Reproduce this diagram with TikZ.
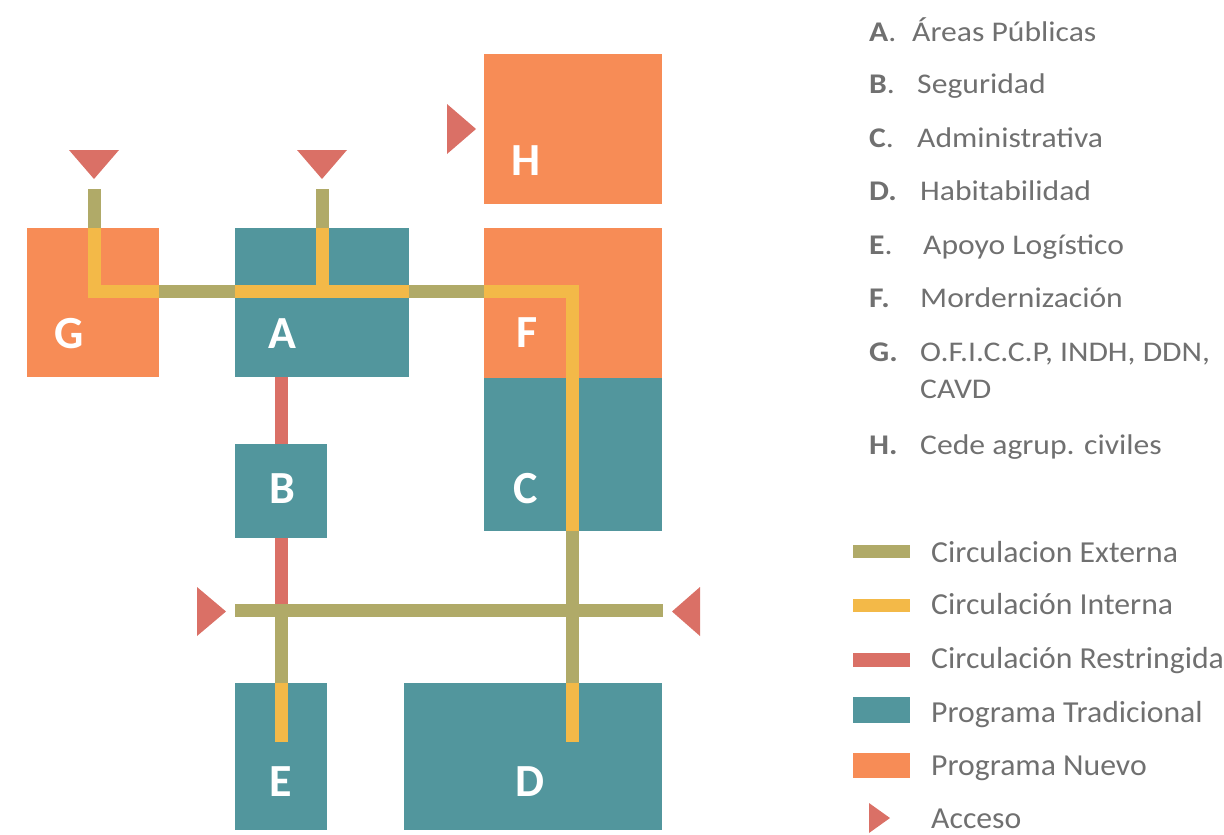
\documentclass[tikz,border=0pt]{standalone}
\usepackage{fontspec}
\setmainfont{Carlito}
\definecolor{teal}{RGB}{82,150,157}
\definecolor{orng}{RGB}{247,140,86}
\definecolor{olive}{RGB}{176,170,104}
\definecolor{yel}{RGB}{243,185,72}
\definecolor{rd}{RGB}{218,112,102}
\definecolor{txt}{RGB}{112,112,112}
\tikzset{
  box/.style={anchor=north west, inner sep=0pt, outer sep=0pt, draw=none},
  trad/.style={box, fill=teal},
  nuevo/.style={box, fill=orng},
  letter/.style={anchor=base, text=white, font=\fontsize{46}{46}\selectfont\bfseries, inner sep=0pt},
  ext/.style={draw=olive, line width=13pt, line cap=butt, line join=miter},
  int/.style={draw=yel, line width=13pt, line cap=butt, line join=miter},
  res/.style={draw=rd, line width=13pt, line cap=butt},
  acc/.style={fill=rd, draw=none},
  legtxt/.style={anchor=base west, text=txt, font=\fontsize{28.5}{28.5}\selectfont, inner sep=0pt, xscale=1.11},
  keytxt/.style={anchor=base west, text=txt, font=\fontsize{30.5}{30.5}\selectfont, inner sep=0pt, xscale=1.04},
}
\begin{document}
\begin{tikzpicture}[x=1pt,y=-1pt]
\useasboundingbox (0,0) rectangle (1224,835);
% boxes
\node[nuevo, minimum width=132pt, minimum height=149pt] (G) at (27,228) {};
\node[trad, minimum width=174pt, minimum height=149pt] (A) at (235,228) {};
\node[nuevo, minimum width=178pt, minimum height=150pt] (H) at (484,54) {};
\node[nuevo, minimum width=178pt, minimum height=150pt] (F) at (484,228) {};
\node[trad, minimum width=178pt, minimum height=153pt] (C) at (484,378) {};
\node[trad, minimum width=92pt, minimum height=94pt] (B) at (235,444) {};
\node[trad, minimum width=92pt, minimum height=147pt] (E) at (235,683) {};
\node[trad, minimum width=258pt, minimum height=147pt] (D) at (404,683) {};
% letters
\node[letter] (lG) at (69,348) {G};
\node[letter] (lA) at (282,348) {A};
\node[letter] (lF) at (527,347) {F};
\node[letter] (lH) at (526,175) {H};
\node[letter] (lB) at (282,503) {B};
\node[letter] (lC) at (526,503) {C};
\node[letter] (lE) at (281,796) {E};
\node[letter] (lD) at (530,796) {D};
% route coordinates
\coordinate (gTop) at (94.5,189);
\coordinate (gIn) at (94.5,228);
\coordinate (gCorner) at (94.5,291);
\coordinate (gOut) at (159,291);
\coordinate (aWest) at (235,291);
\coordinate (aEast) at (409,291);
\coordinate (aTop) at (322,189);
\coordinate (aIn) at (322,228);
\coordinate (aJoin) at (322,291);
\coordinate (fWest) at (484,291);
\coordinate (fCorner) at (572.5,291);
\coordinate (cBot) at (572.5,531);
\coordinate (dTop) at (572.5,683);
\coordinate (dEnd) at (572.5,742);
\coordinate (aBot) at (281.5,377);
\coordinate (bTop) at (281.5,444);
\coordinate (bBot) at (281.5,538);
\coordinate (cross) at (281.5,604);
\coordinate (eTop) at (281.5,683);
\coordinate (eEnd) at (281.5,742);
\coordinate (hW) at (235,610.5);
\coordinate (hE) at (663,610.5);
% external circulation
\draw[ext] (gTop) -- (gIn);
\draw[ext] (aTop) -- (aIn);
\draw[ext] (gOut) -- (aWest);
\draw[ext] (aEast) -- (fWest);
\draw[ext] (hW) -- (hE);
\draw[ext] (cross) -- (eTop);
\draw[ext] (cBot) -- (dTop);
% internal circulation
\draw[int] (gIn) -- (gCorner) -- (gOut);
\draw[int] (aWest) -- (aEast);
\draw[int] (aIn) -- (aJoin);
\draw[int] (fWest) -- (fCorner) -- (cBot);
\draw[int] (dTop) -- (dEnd);
\draw[int] (eTop) -- (eEnd);
% restricted
\draw[res] (aBot) -- (bTop);
\draw[res] (bBot) -- (cross);
% access
\fill[acc] (69,150) -- (119,150) -- (94,179) -- cycle;
\fill[acc] (297,150) -- (347,150) -- (322,179) -- cycle;
\fill[acc] (447,104) -- (447,154) -- (476,129) -- cycle;
\fill[acc] (197,587) -- (197,636) -- (226,611.5) -- cycle;
\fill[acc] (700,587) -- (700,636) -- (672,611.5) -- cycle;
% legend letters
\node[legtxt] (kA) at (869,41) {\textbf{A}.};
\node[legtxt] (tA) at (912,41) {Áreas Públicas};
\node[legtxt] (kB) at (869,93) {\textbf{B}.};
\node[legtxt] (tB) at (917,93) {Seguridad};
\node[legtxt] (kC) at (869,147) {\textbf{C}.};
\node[legtxt] (tC) at (917,147) {Administrativa};
\node[legtxt] (kD) at (869,200) {\textbf{D.}};
\node[legtxt] (tD) at (920,200) {Habitabilidad};
\node[legtxt] (kE) at (869,254) {\textbf{E}.};
\node[legtxt] (tE) at (923,254) {Apoyo Logístico};
\node[legtxt] (kF) at (869,307) {\textbf{F.}};
\node[legtxt] (tF) at (920,307) {Mordernización};
\node[legtxt] (kG) at (869,361) {\textbf{G.}};
\node[legtxt] (tG) at (920,361) {O.F.I.C.C.P, INDH, DDN,};
\node[legtxt] (tG2) at (920,398) {CAVD};
\node[legtxt] (kH) at (869,454) {\textbf{H.}};
\node[legtxt] (tH) at (920,454) {Cede agrup. civiles};
% key
\fill[olive] (853,545) rectangle (910,558);
\node[keytxt] (k1) at (931,562) {Circulacion Externa};
\fill[yel] (853,599) rectangle (910,612);
\node[keytxt] (k2) at (931,614) {Circulación Interna};
\fill[rd] (853,653) rectangle (910,667);
\node[keytxt] (k3) at (931,668) {Circulación Restringida};
\fill[teal] (853,697) rectangle (910,723);
\node[keytxt] (k4) at (931,722) {Programa Tradicional};
\fill[orng] (853,753) rectangle (910,778);
\node[keytxt] (k5) at (931,775) {Programa Nuevo};
\fill[acc] (869,803) -- (869,833) -- (890,818) -- cycle;
\node[keytxt] (k6) at (931,828) {Acceso};
\end{tikzpicture}
\end{document}
